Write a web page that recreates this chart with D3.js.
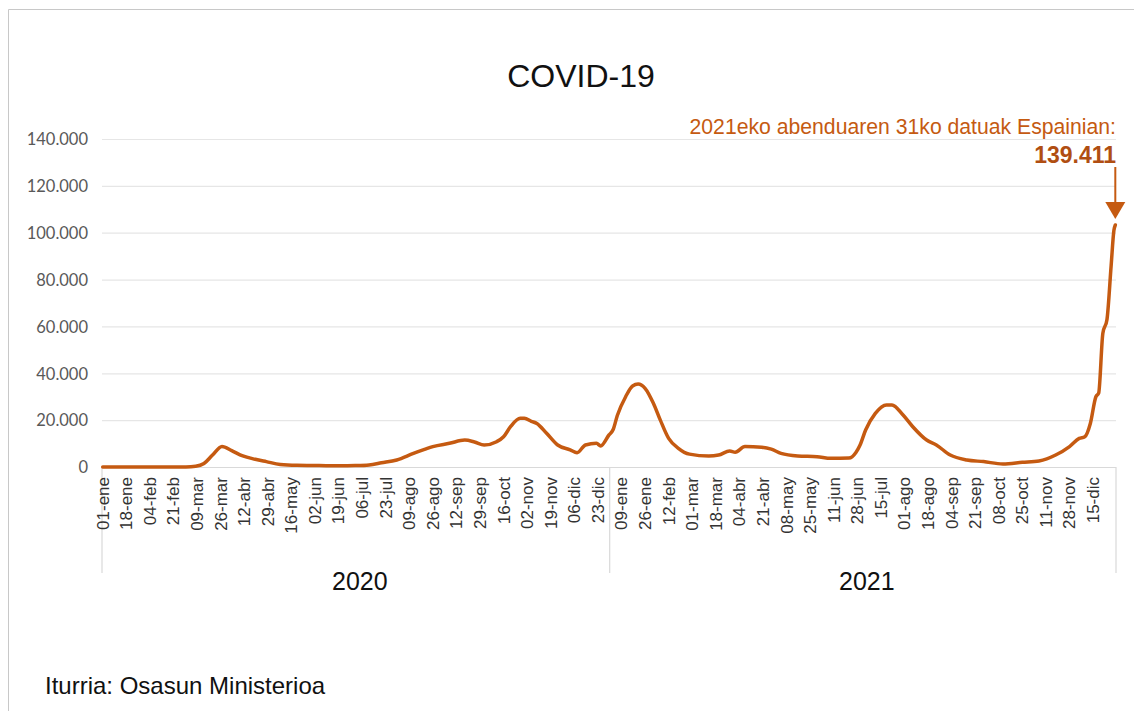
<!DOCTYPE html>
<html>
<head>
<meta charset="utf-8">
<script src="https://cdn.jsdelivr.net/npm/d3@7"></script>
<style>
  html, body { margin: 0; padding: 0; background: #fff; }
  svg { display: block; }
</style>
</head>
<body>
<svg id="chart" width="1134" height="711"></svg>
<script>
// ---- DATA ----
const title = "COVID-19";
const source = "Iturria: Osasun Ministerioa";
const annotationText = "2021eko abenduaren 31ko datuak Espainian:";
const annotationValue = "139.411";
const years = ["2020", "2021"];
const yTicks = [0, 20000, 40000, 60000, 80000, 100000, 120000, 140000];
const xTickLabels = [
  "01-ene","18-ene","04-feb","21-feb","09-mar","26-mar","12-abr","29-abr","16-may","02-jun","19-jun",
  "06-jul","23-jul","09-ago","26-ago","12-sep","29-sep","16-oct","02-nov","19-nov","06-dic","23-dic",
  "09-ene","26-ene","12-feb","01-mar","18-mar","04-abr","21-abr","08-may","25-may","11-jun","28-jun",
  "15-jul","01-ago","18-ago","04-sep","21-sep","08-oct","25-oct","11-nov","28-nov","15-dic"
];
const dates = [
  "2020-01-01","2020-02-01","2020-03-01","2020-03-08","2020-03-14","2020-03-20","2020-03-27","2020-04-03",
  "2020-04-11","2020-04-20","2020-04-28","2020-05-08","2020-05-20","2020-06-05","2020-06-20","2020-07-01",
  "2020-07-11","2020-07-20","2020-07-31","2020-08-12","2020-08-20","2020-08-26","2020-09-07","2020-09-18",
  "2020-09-25","2020-10-02","2020-10-11","2020-10-16","2020-10-21","2020-10-28","2020-10-31","2020-11-05",
  "2020-11-09","2020-11-16","2020-11-24","2020-12-03","2020-12-08","2020-12-14","2020-12-22","2020-12-25",
  "2020-12-31","2021-01-03","2021-01-06","2021-01-12","2021-01-17","2021-01-21","2021-01-26","2021-02-01",
  "2021-02-06","2021-02-12","2021-02-19","2021-02-27","2021-03-13","2021-03-20","2021-03-28","2021-04-01",
  "2021-04-08","2021-04-20","2021-04-27","2021-05-04","2021-05-16","2021-05-30","2021-06-09","2021-06-22",
  "2021-06-27","2021-06-30","2021-07-04","2021-07-11","2021-07-19","2021-07-23","2021-07-31","2021-08-07",
  "2021-08-17","2021-08-24","2021-09-03","2021-09-15","2021-09-27","2021-10-11","2021-10-25","2021-11-06",
  "2021-11-18","2021-11-28","2021-12-05","2021-12-09","2021-12-13","2021-12-17","2021-12-19","2021-12-22",
  "2021-12-25","2021-12-28","2021-12-30","2021-12-31"
];
const cases = [
  0, 0, 50, 300, 1500, 5000, 8800, 7000,
  4700, 3300, 2300, 1100, 700, 600, 500, 600,
  900, 1800, 3000, 5800, 7500, 8700, 10100, 11500,
  10700, 9400, 10800, 12900, 17200, 20800, 20800, 19500,
  18600, 14400, 9400, 7300, 6100, 9400, 10100, 9000,
  13700, 16000, 22000, 30000, 34600, 35400, 33600, 27200,
  20000, 12200, 8000, 5500, 4700, 5100, 6800, 6300,
  8700, 8400, 7600, 5800, 4700, 4400, 3700, 3800,
  6200, 9400, 15800, 22900, 26500, 26500, 22200, 17200,
  11500, 9400, 5100, 3000, 2300, 1300, 2000, 2600,
  5100, 8700, 12200, 12900, 18600, 30000, 31500, 57000,
  63000, 86000, 101000, 103300
];

// ---- CHART ----
const svg = d3.select("#chart");
const ORANGE = "#C55A11";
const parse = d3.utcParse("%Y-%m-%d");
const start = parse("2020-01-01");
const dayIndex = d => Math.round((d - start) / 864e5);
const nDays = 731;
const data = dates.map((s, i) => ({ day: dayIndex(parse(s)), v: cases[i] }));

const plot = { left: 102, right: 1116, top: 139, bottom: 467 };
const x = d3.scaleLinear().domain([-0.5, nDays - 0.5]).range([plot.left, plot.right]);
const y = d3.scaleLinear().domain([0, 140000]).range([plot.bottom, plot.top]);

// frame
svg.append("path").attr("d", "M8.5,711 L8.5,9.5 L1134,9.5")
  .attr("fill", "none").attr("stroke", "#c8c8c8").attr("stroke-width", 1);

// title
svg.append("text").attr("x", 581).attr("y", 87).attr("text-anchor", "middle")
  .attr("font-family", "Liberation Sans, Arial, sans-serif").attr("font-size", 32)
  .attr("fill", "#111").text(title);

// gridlines + y axis
const yAxis = d3.axisLeft(y).tickValues(yTicks)
  .tickSize(-(plot.right - plot.left))
  .tickFormat(d => d === 0 ? "0" : d3.format(",")(d).replace(/,/g, "."));
const gy = svg.append("g").attr("transform", `translate(${plot.left},0)`).call(yAxis);
gy.select(".domain").remove();
gy.selectAll(".tick line").attr("stroke", "#e6e6e6").attr("stroke-width", 1.2);
gy.selectAll(".tick text").attr("x", -14).attr("dy", "0.35em")
  .attr("font-family", "Lato, Carlito, sans-serif").attr("font-size", 16.5).attr("fill", "#595959");

// x axis base line
svg.append("line").attr("x1", plot.left).attr("x2", plot.right)
  .attr("y1", plot.bottom + 0.5).attr("y2", plot.bottom + 0.5)
  .attr("stroke", "#d9d9d9").attr("stroke-width", 1.2);

// group separators
const yearBounds = [0, 366, nDays];
svg.selectAll("line.sep").data(yearBounds).join("line").attr("class", "sep")
  .attr("x1", d => x(d - 0.5)).attr("x2", d => x(d - 0.5))
  .attr("y1", plot.bottom).attr("y2", 573)
  .attr("stroke", "#d9d9d9").attr("stroke-width", 1.2);

// x tick labels (every 17 days)
svg.selectAll("text.xt").data(xTickLabels).join("text").attr("class", "xt")
  .attr("transform", (d, i) => `translate(${x(i * 17)},477) rotate(-90)`)
  .attr("text-anchor", "end").attr("dy", "0.35em")
  .attr("font-family", "Liberation Sans, Arial, sans-serif").attr("font-size", 17)
  .attr("fill", "#333").text(d => d);

// year labels
svg.selectAll("text.yr").data(years).join("text").attr("class", "yr")
  .attr("x", (d, i) => (x(yearBounds[i] - 0.5) + x(yearBounds[i + 1] - 0.5)) / 2 + 4)
  .attr("y", 590).attr("text-anchor", "middle")
  .attr("font-family", "Liberation Sans, Arial, sans-serif").attr("font-size", 25)
  .attr("fill", "#111").text(d => d);

// line
const line = d3.line().x(d => x(d.day)).y(d => y(d.v)).curve(d3.curveMonotoneX);
svg.append("path").datum(data).attr("d", line)
  .attr("fill", "none").attr("stroke", ORANGE).attr("stroke-width", 3.5)
  .attr("stroke-linejoin", "round").attr("stroke-linecap", "round");

// annotation
const last = data[data.length - 1];
const ax = x(last.day);
svg.append("text").attr("x", 1116).attr("y", 134).attr("text-anchor", "end")
  .attr("font-family", "Liberation Sans, Arial, sans-serif").attr("font-size", 21.2)
  .attr("fill", ORANGE).text(annotationText);
svg.append("text").attr("x", 1116).attr("y", 163).attr("text-anchor", "end")
  .attr("font-family", "Liberation Sans, Arial, sans-serif").attr("font-size", 23)
  .attr("font-weight", "bold").attr("fill", "#B04E12").text(annotationValue);
svg.append("line").attr("x1", ax).attr("x2", ax).attr("y1", 167).attr("y2", 205)
  .attr("stroke", ORANGE).attr("stroke-width", 2);
svg.append("path")
  .attr("d", `M${ax - 10},202 L${ax + 10},202 L${ax},219 Z`)
  .attr("fill", ORANGE);

// source
svg.append("text").attr("x", 45).attr("y", 694)
  .attr("font-family", "Liberation Sans, Arial, sans-serif").attr("font-size", 24)
  .attr("fill", "#111").text(source);
</script>
</body>
</html>
